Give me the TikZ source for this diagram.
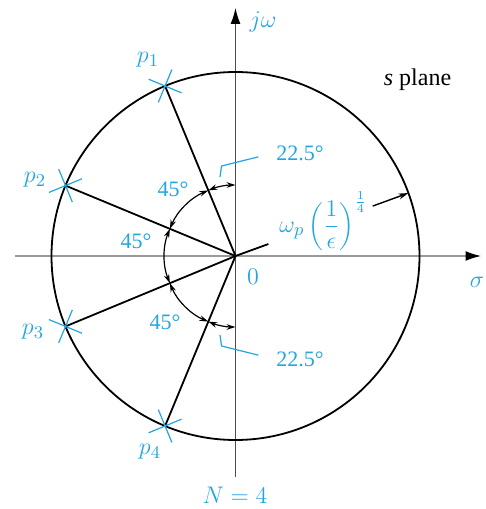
\documentclass[tikz,border=0pt]{standalone}
\usepackage{fontspec}
\setmainfont{Liberation Serif}
\usetikzlibrary{arrows.meta,shapes.misc}
\definecolor{lblue}{RGB}{35,165,225}

\begin{document}
\begin{tikzpicture}[
  x=0.5pt, y=0.5pt,
  font=\fontsize{11}{13}\selectfont,
  lbl/.style={text=lblue, inner sep=1pt},
  mlbl/.style={lbl, font=\fontsize{12.5}{15}\selectfont},
  haxis/.style={draw=black!40, line width=1pt, -{Latex[length=8pt,width=5pt,color=black]}},
  vaxis/.style={draw=black!70, line width=0.6pt, -{Latex[length=8pt,width=5pt,color=black]}},
  ray/.style={line width=0.9pt},
  dim/.style={line width=0.6pt, {Stealth[length=4.5pt,width=2.8pt]}-{Stealth[length=4.5pt,width=2.8pt]}},
  polemark/.style={cross out, draw=lblue, line width=0.6pt, minimum size=12pt, inner sep=0pt},
  leader/.style={draw=lblue, line width=0.6pt}
]
\useasboundingbox (-235.5,-253) rectangle (250.5,256);
\coordinate (O) at (0,0);
\coordinate (xl) at (-220.5,0);
\coordinate (xr) at (246,0);
\coordinate (yb) at (0,-221);
\coordinate (yt) at (0,248);
\draw[haxis] (xl) -- (xr);
\draw[vaxis] (yb) -- (yt);
\draw[line width=0.9pt] (O) circle[radius=184];

\foreach \i/\a in {1/112.5,2/157.5,3/202.5,4/247.5} {
  \coordinate (p\i) at (\a:184);
  \draw[ray] (O) -- (p\i);
  \node[polemark, rotate=\a] (m\i) at (p\i) {};
}
\foreach \s/\e in {90/112.5,112.5/157.5,157.5/202.5,202.5/247.5,247.5/270}
  \draw[dim] (\s:71) arc[start angle=\s, end angle=\e, radius=71];

\node[mlbl] (lp1) at (-87.5,196) {$p_1$};
\node[mlbl] (lp2) at (-200.5,76) {$p_2$};
\node[mlbl] (lp3) at (-202.5,-76) {$p_3$};
\node[mlbl] (lp4) at (-85.5,-196) {$p_4$};

\node[lbl] (a45t) at (-62.5,67) {45°};
\node[lbl] (a45l) at (-99.5,15) {45°};
\node[lbl] (a45b) at (-70.5,-66) {45°};
\node[lbl] (a22t) at (64.5,103) {22.5°};
\node[lbl] (a22b) at (64.5,-103) {22.5°};

\coordinate (lt1) at (-15.5,79);
\coordinate (lt2) at (-14,90);
\coordinate (lb1) at (-15.5,-79);
\coordinate (lb2) at (-14,-90);
\draw[leader, shorten >=8pt] (lt1) -- (lt2) -- (a22t.west);
\draw[leader, shorten >=8pt] (lb1) -- (lb2) -- (a22b.west);

\coordinate (wa) at (20:35);
\coordinate (wb) at (20:146);
\coordinate (wc) at (20:184);
\node[mlbl] (rad) at (88,35) {$\omega_p\left(\displaystyle\frac{1}{\epsilon}\right)^{\frac{1}{4}}$};
\draw[ray] (O) -- (wa);
\draw[line width=0.7pt, -{Stealth[length=5pt,width=3pt]}] (wb) -- (wc);

\node[mlbl] (zero) at (17.5,-21) {$0$};
\node[mlbl] (jw) at (27.5,234) {$j\omega$};
\node[mlbl] (sig) at (241.5,-26) {$\sigma$};
\node[mlbl] (nn) at (-0.5,-239) {$N = 4$};
\node[inner sep=1pt, font=\fontsize{12}{14}\selectfont] (spl) at (182,176) {\textit{s} plane};
\end{tikzpicture}
\end{document}
